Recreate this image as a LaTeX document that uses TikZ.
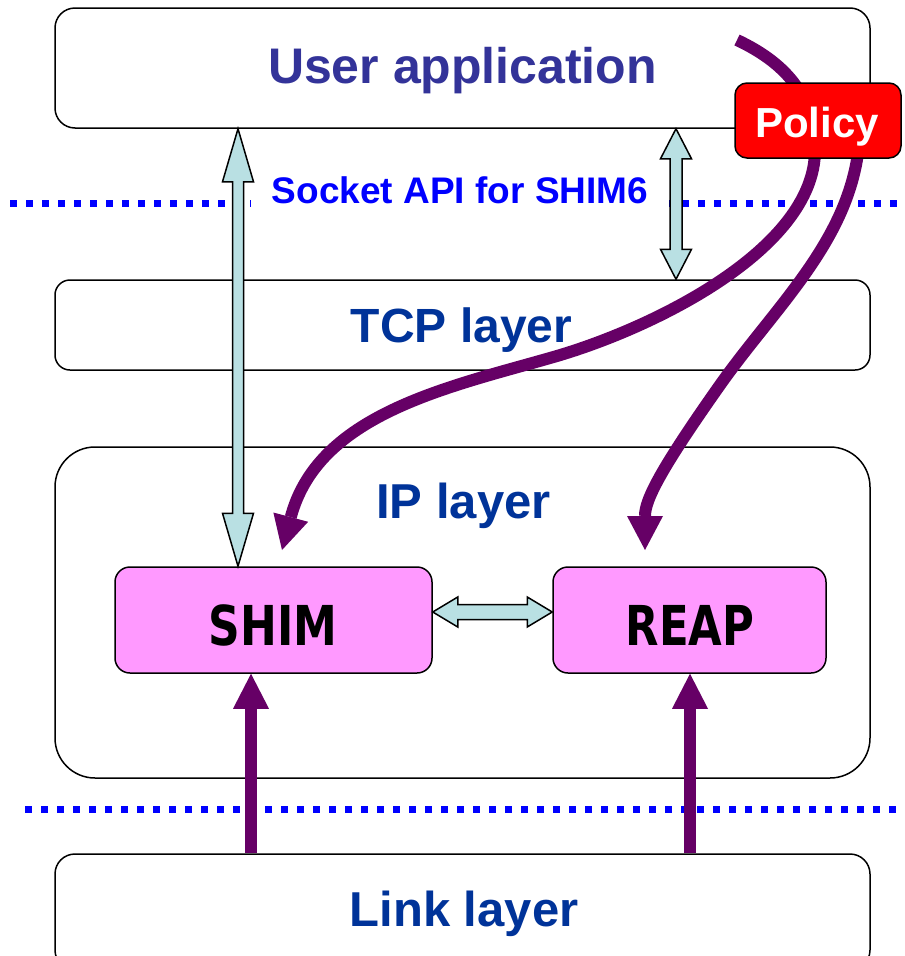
\documentclass[tikz,border=0pt]{standalone}
\usepackage{fontspec}
\setmainfont{Liberation Sans}
\newfontfamily\dvsans{DejaVu Sans}
\usetikzlibrary{arrows.meta,calc}
\definecolor{userblue}{HTML}{333399}
\definecolor{layerblue}{HTML}{003399}
\definecolor{sockblue}{HTML}{0000FF}
\definecolor{purp}{HTML}{660066}
\definecolor{lblue}{HTML}{B9E0E3}
\definecolor{pinkbox}{HTML}{FF99FF}
\definecolor{polred}{HTML}{FF0000}
\newcommand{\dblv}[5]{%
  \draw[lbarrow] (#1) -- ($(#1)+(#4,#5)$) -- ($(#1)+(#3,#5)$) -- ($(#2)+(#3,-#5)$) -- ($(#2)+(#4,-#5)$) -- (#2)
   -- ($(#2)+(-#4,-#5)$) -- ($(#2)+(-#3,-#5)$) -- ($(#1)+(-#3,#5)$) -- ($(#1)+(-#4,#5)$) -- cycle;}
\newcommand{\dblh}[5]{%
  \draw[lbarrow] (#1) -- ($(#1)+(#5,-#4)$) -- ($(#1)+(#5,-#3)$) -- ($(#2)+(-#5,-#3)$) -- ($(#2)+(-#5,-#4)$) -- (#2)
   -- ($(#2)+(-#5,#4)$) -- ($(#2)+(-#5,#3)$) -- ($(#1)+(#5,#3)$) -- ($(#1)+(#5,#4)$) -- cycle;}
\tikzset{
  layerbox/.style={draw=black, line width=1.5pt, fill=white, rounded corners=#1, inner sep=0pt},
  modbox/.style={draw=black, line width=1.5pt, fill=pinkbox, rounded corners=15pt, inner sep=0pt, minimum height=106pt},
  policybox/.style={draw=black, line width=1.5pt, fill=polred, rounded corners=12pt, inner sep=0pt},
  layertext/.style={anchor=base, text=layerblue, font=\bfseries\fontsize{49}{58}\selectfont},
  modtext/.style={anchor=base, text=black, font=\dvsans\bfseries\fontsize{55}{64}\selectfont},
  dotline/.style={draw=sockblue, line width=7pt, dash pattern=on 7pt off 9pt},
  lbarrow/.style={draw=black, line width=1.5pt, fill=lblue, line join=miter},
  purarrow/.style={draw=purp, line width=12pt, -{Triangle[length=35pt,width=36pt,line width=0pt]}},
  purcurve/.style={draw=purp, line width=12pt, -{Triangle[length=34pt,width=36pt,line width=0pt]}},
}
\begin{document}
\begin{tikzpicture}[x=1pt,y=-1pt]
\useasboundingbox (0,0) rectangle (905,956);
% layer boxes
\node[layerbox=20pt, minimum width=815pt, minimum height=120pt] (user) at (462.5,68) {};
\node[layerbox=15pt, minimum width=815pt, minimum height=90pt] (tcp) at (462.5,325) {};
\node[layerbox=40pt, minimum width=815pt, minimum height=331pt] (ip) at (462.5,612.5) {};
\node[layerbox=20pt, minimum width=815pt, minimum height=116pt] (link) at (462.5,912) {};
\node[modbox, minimum width=317pt] (shim) at (273.5,620) {};
\node[modbox, minimum width=273pt] (reap) at (689.5,620) {};
% dotted separators
\coordinate (d1a) at (10,203);
\coordinate (d1b) at (898,203);
\coordinate (d2a) at (25,809);
\coordinate (d2b) at (905,809);
\draw[dotline] (d1a) -- (d1b);
\draw[dotline] (d2a) -- (d2b);
\node[anchor=base, fill=white, inner xsep=21pt, inner ysep=6pt, text=sockblue,
      font=\bfseries\fontsize{37}{44}\selectfont] (sock) at (460,203) {Socket API for SHIM6};
% light blue double arrows
\coordinate (xl) at (238,0);
\coordinate (xr) at (676,0);
\coordinate (yh) at (0,612);
\coordinate (ut1) at (user.south -| xl);
\coordinate (sb1) at (shim.north -| xl);
\coordinate (ut2) at (user.south -| xr);
\coordinate (tb2) at (tcp.north -| xr);
\coordinate (se) at (shim.east |- yh);
\coordinate (rw) at (reap.west |- yh);
\dblv{ut1}{sb1}{5.5}{15.5}{53}
\dblv{ut2}{tb2}{6}{15.5}{30}
\dblh{se}{rw}{7.5}{15}{25}
% purple up arrows
\coordinate (xa) at (251,0);
\coordinate (xb) at (690,0);
\draw[purarrow] (link.north -| xa) -- (shim.south -| xa);
\draw[purarrow] (link.north -| xb) -- (reap.south -| xb);
% purple curves from policy
\coordinate (c1s) at (737,40);
\coordinate (c1m) at (815,150);
\coordinate (c1n) at (550,358);
\coordinate (c1e) at (282,550);
\coordinate (c2s) at (860,120);
\coordinate (c2m) at (720,385);
\coordinate (c2e) at (645,550);
\draw[purcurve] (c1s) .. controls (790,65) and (815,100) .. (c1m)
   .. controls (815,250) and (650,330) .. (c1n)
   .. controls (445,388) and (318,415) .. (c1e);
\draw[purcurve] (c2s) .. controls (862,230) and (780,300) .. (c2m)
   .. controls (660,470) and (645,500) .. (c2e);
% policy
\node[policybox, minimum width=166pt, minimum height=75pt] (policy) at (818,120.5) {};
\node[anchor=base, text=white, font=\bfseries\fontsize{42}{50}\selectfont] (tpol) at (817,137) {Policy};
% labels
\node[anchor=base, text=userblue, font=\bfseries\fontsize{50}{60}\selectfont] (tuser) at (462.5,83) {User application};
\node[layertext, font=\bfseries\fontsize{48}{58}\selectfont] (ttcp) at (461.5,342) {TCP layer};
\node[layertext] (tip) at (463.5,518) {IP layer};
\node[layertext] (tlink) at (464,926) {Link layer};
\node[modtext] (tshim) at (273,645) {\scalebox{0.8}[1]{SHIM}};
\node[modtext] (treap) at (690,645) {\scalebox{0.79}[1]{REAP}};
\end{tikzpicture}
\end{document}
